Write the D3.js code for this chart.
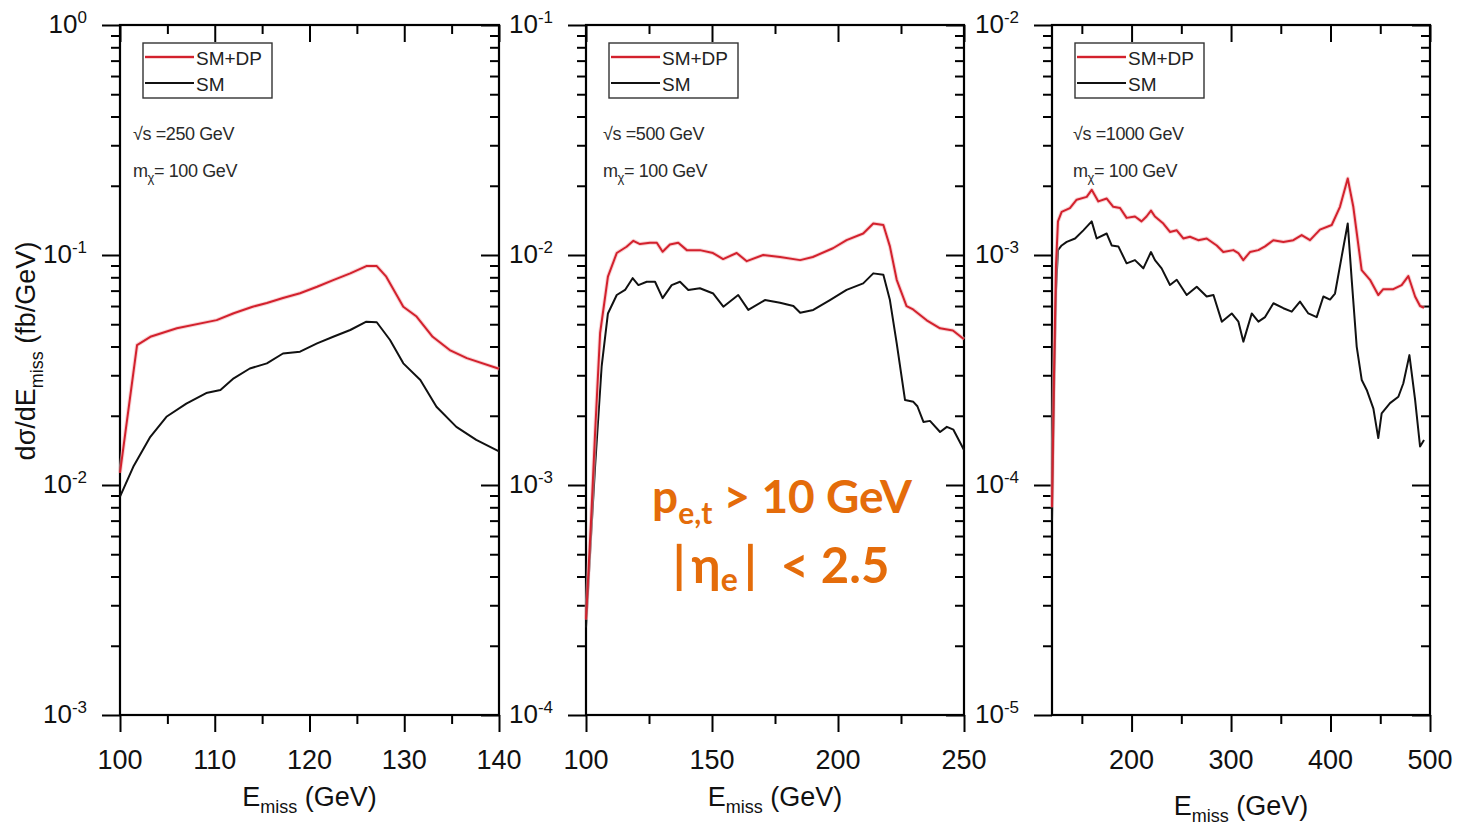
<!DOCTYPE html>
<html><head><meta charset="utf-8">
<script src="https://cdn.jsdelivr.net/npm/d3@7"></script>
<style>
html,body{margin:0;padding:0;background:#fff;}
svg{display:block;font-family:"Liberation Sans",Arial,sans-serif;}
</style></head>
<body>
<svg id="chart" width="1460" height="827"></svg>
<script>
// ---------- DATA ----------
// Panel 1: sqrt(s)=250 GeV
const p1SmDpE = [100,101.8,103.2,106,110.2,112,114,115.5,117.2,119,120.8,122.5,124.3,126,127.1,128.1,129.9,131.3,133,134.8,136.6,140];
const p1SmDpY = [0.0113,0.0406,0.0441,0.048,0.0521,0.0558,0.0596,0.0618,0.065,0.0682,0.0728,0.0778,0.0832,0.0895,0.0895,0.0805,0.0596,0.054,0.0441,0.0386,0.0356,0.032];
const p1SmE = [100,101.4,103.2,104.9,107,109.1,110.6,112,113.7,115.5,117.2,119,120.8,122.5,124.3,126,127.1,128.5,129.9,131.7,133.4,135.5,137.6,140];
const p1SmY = [0.0089,0.012,0.0162,0.0198,0.0226,0.0251,0.0259,0.0291,0.0321,0.0338,0.0373,0.038,0.0413,0.0441,0.0472,0.0513,0.051,0.0427,0.0338,0.0286,0.0219,0.0179,0.0157,0.014];

// Panel 2: sqrt(s)=500 GeV
const p2SmDpE = [100,102,103.6,105.6,108.7,112.2,116.1,118.8,121.4,125.4,128.1,130.4,133.3,136.6,140,145.2,150.4,154.4,159.8,163.8,170.3,177,185,190,198,203.4,210,214,218,220.6,223.3,227.2,229.8,235.2,240.5,245.6,250];
const p2SmDpY = [2.6e-4,7e-4,1.68e-3,4.58e-3,8.05e-3,0.0102,0.01086,0.01153,0.01116,0.0113,0.0113,0.01033,0.0111,0.0113,0.0105,0.0105,0.0102,0.0096,0.0102,0.0094,0.0100,0.0098,0.0095,0.0098,0.0107,0.0116,0.0124,0.0137,0.0135,0.0109,0.0078,0.0060,0.0058,0.0052,0.0048,0.0047,0.0043];
const p2SmE = [100,102,103.6,106.2,108.7,112.2,115.5,118.5,120.8,124.1,127.4,130.4,134,137.3,140.6,145.2,150.5,154.5,160.4,164.4,171,177,182.3,185,190.2,196.8,203.4,210,214,218,220.6,223.3,226.6,229.9,231.5,233.9,236.5,240.5,243.2,245.8,250];
const p2SmY = [2.4e-4,6e-4,1.2e-3,3.27e-3,5.57e-3,6.7e-3,7.05e-3,7.93e-3,7.4e-3,7.65e-3,7.65e-3,6.49e-3,7.4e-3,7.65e-3,7.05e-3,7.17e-3,6.8e-3,5.96e-3,6.7e-3,5.77e-3,6.37e-3,6.2e-3,6.0e-3,5.61e-3,5.77e-3,6.37e-3,7.05e-3,7.53e-3,8.32e-3,8.2e-3,6.37e-3,4.13e-3,2.34e-3,2.3e-3,2.2e-3,1.88e-3,1.9e-3,1.7e-3,1.79e-3,1.74e-3,1.42e-3];

// Panel 3: sqrt(s)=1000 GeV
const p3SmDpE = [120,122,124,126,129.7,138,144.8,154.9,159.9,166.6,175,181.6,188.4,195,203.4,210,215,219.5,223.5,231.9,238.6,245.4,252,258.7,267,275.5,285.6,292.2,302.3,307.3,312.3,319,327.4,334.2,342.5,352.6,362.6,371,379.4,389.4,401.2,409.5,417.3,422.9,431.3,439.7,448,453,463.1,471.5,478.2,485,490,494];
const p3SmDpY = [8e-5,3e-4,9e-4,1.4e-3,1.54e-3,1.6e-3,1.74e-3,1.79e-3,1.92e-3,1.71e-3,1.76e-3,1.62e-3,1.6e-3,1.45e-3,1.47e-3,1.40e-3,1.47e-3,1.56e-3,1.47e-3,1.37e-3,1.26e-3,1.28e-3,1.18e-3,1.2e-3,1.16e-3,1.18e-3,1.10e-3,1.03e-3,1.05e-3,1.02e-3,9.5e-4,1.03e-3,1.05e-3,1.09e-3,1.16e-3,1.14e-3,1.16e-3,1.22e-3,1.16e-3,1.29e-3,1.35e-3,1.62e-3,2.15e-3,1.62e-3,8.6e-4,7.8e-4,6.7e-4,7.1e-4,7.1e-4,7.4e-4,8.1e-4,6.6e-4,6.0e-4,5.9e-4];
const p3SmE = [120,122,124,126,129.7,134.8,143.2,151.5,159.9,164.9,175,180,186.7,195,203.4,211.8,219.5,223.5,230.2,238.6,245.4,255.4,265.5,275.5,282.3,290.7,300.7,307.4,312.4,320.8,327.5,334.2,342.6,352.6,361,369.3,377.7,386.1,392.8,399.5,404.5,411.2,417.3,421.3,426.3,431.4,436.4,443.1,448,451.4,459.8,468.2,473.2,479.3,485,490,494];
const p3SmY = [7e-5,2.5e-4,7e-4,1.05e-3,1.10e-3,1.14e-3,1.18e-3,1.28e-3,1.40e-3,1.18e-3,1.24e-3,1.10e-3,1.09e-3,9.2e-4,9.5e-4,8.75e-4,1.03e-3,9.5e-4,8.75e-4,7.41e-4,7.8e-4,6.7e-4,7.28e-4,6.6e-4,6.7e-4,5.13e-4,5.57e-4,5.13e-4,4.2e-4,5.57e-4,5.13e-4,5.37e-4,6.17e-4,5.87e-4,5.67e-4,6.27e-4,5.57e-4,5.37e-4,6.6e-4,6.4e-4,6.8e-4,9.84e-4,1.37e-3,7.8e-4,4.0e-4,2.86e-4,2.59e-4,2.15e-4,1.6e-4,2.05e-4,2.27e-4,2.42e-4,2.77e-4,3.67e-4,2.35e-4,1.47e-4,1.57e-4];

// axes / ticks
const xDomains = [[100,140],[100,250],[120,500]];
const xMajorTicks = [[100,110,120,130,140],[100,150,200,250],[200,300,400,500]];
const xMinorTicks = [[105,115,125,135],[125,175,225],[150,250,350,450]];
const yExpRanges = [[-3,0],[-4,-1],[-5,-2]];
const sqrtSLabels = ["\u221As =250 GeV","\u221As =500 GeV","\u221As =1000 GeV"];
const massLabel = ["m","\u03C7","= 100 GeV"];
const legendLabels = ["SM+DP","SM"];
const cutLines = [["p","e,t"," > 10 GeV"],["|\u2009\u03B7","e","\u2009|  < 2.5"]];

// ---------- LAYOUT ----------
const svg = d3.select("#chart");
const TOP = 25, BOTTOM = 715;
const panelX = [[120,499],[586,964],[1052,1430]];
const annotDx = [13,17,21];
const xTitleY = [806,806,815];
const RED = "#d3212d", BLACK = "#111";

const series = [
  {dp:[p1SmDpE,p1SmDpY], sm:[p1SmE,p1SmY]},
  {dp:[p2SmDpE,p2SmDpY], sm:[p2SmE,p2SmY]},
  {dp:[p3SmDpE,p3SmDpY], sm:[p3SmE,p3SmY]}
];

function minorLog(e0,e1){
  const out=[];
  for(let e=e0;e<e1;e++) for(let k=2;k<=9;k++) out.push(k*Math.pow(10,e));
  return out;
}
function majorLog(e0,e1){
  const out=[]; for(let e=e0;e<=e1;e++) out.push(Math.pow(10,e)); return out;
}

panelX.forEach((px,i)=>{
  const x = d3.scaleLinear().domain(xDomains[i]).range(px);
  const [e0,e1] = yExpRanges[i];
  const y = d3.scaleLog().domain([Math.pow(10,e0),Math.pow(10,e1)]).range([BOTTOM,TOP]);
  const g = svg.append("g");

  const styleAxis = sel => { sel.select(".domain").remove(); sel.selectAll("line").attr("stroke","#000").attr("stroke-width",2); sel.selectAll("text").remove(); };
  g.append("g").attr("transform",`translate(0,${BOTTOM})`)
    .call(d3.axisBottom(x).tickValues(xMajorTicks[i]).tickSize(17)).call(styleAxis);
  g.append("g").attr("transform",`translate(0,${BOTTOM})`)
    .call(d3.axisBottom(x).tickValues(xMinorTicks[i]).tickSize(9)).call(styleAxis);
  g.append("g").attr("transform",`translate(0,${TOP})`)
    .call(d3.axisBottom(x).tickValues(xMajorTicks[i]).tickSize(17)).call(styleAxis);
  g.append("g").attr("transform",`translate(0,${TOP})`)
    .call(d3.axisBottom(x).tickValues(xMinorTicks[i]).tickSize(9)).call(styleAxis);
  g.append("g").attr("transform",`translate(${px[0]},0)`)
    .call(d3.axisLeft(y).tickValues(majorLog(e0,e1)).tickSize(18)).call(styleAxis);
  g.append("g").attr("transform",`translate(${px[0]},0)`)
    .call(d3.axisLeft(y).tickValues(minorLog(e0,e1)).tickSize(9)).call(styleAxis);
  g.append("g").attr("transform",`translate(${px[1]},0)`)
    .call(d3.axisLeft(y).tickValues(majorLog(e0,e1)).tickSize(18)).call(styleAxis);
  g.append("g").attr("transform",`translate(${px[1]},0)`)
    .call(d3.axisLeft(y).tickValues(minorLog(e0,e1)).tickSize(9)).call(styleAxis);

  // frame
  g.append("rect").attr("x",px[0]).attr("y",TOP).attr("width",px[1]-px[0]).attr("height",BOTTOM-TOP)
    .attr("fill","none").attr("stroke","#000").attr("stroke-width",2.2);

  // y tick labels
  for(let e=e0;e<=e1;e++){
    const t = g.append("text").attr("x",px[0]-33).attr("y",y(Math.pow(10,e))+8)
      .attr("text-anchor","end").attr("font-size",26).attr("fill","#111");
    t.append("tspan").text("10");
    t.append("tspan").attr("dy",-10).attr("font-size",17).text(String(e));
  }
  // x tick labels
  g.selectAll(".xl").data(xMajorTicks[i]).enter().append("text")
    .attr("x",d=>x(d)).attr("y",769).attr("text-anchor","middle").attr("font-size",27).attr("fill","#111").text(d=>d);

  // x title
  const xt = g.append("text").attr("x",(px[0]+px[1])/2).attr("y",xTitleY[i]).attr("text-anchor","middle").attr("font-size",27).attr("fill","#111");
  xt.append("tspan").text("E");
  xt.append("tspan").attr("dy",7).attr("font-size",18).text("miss");
  xt.append("tspan").attr("dy",-7).text(" (GeV)");

  // curves
  const line = d3.line().x(d=>x(d[0])).y(d=>y(d[1]));
  const toPts = s => s[0].map((v,k)=>[v,s[1][k]]);
  g.append("path").attr("d",line(toPts(series[i].sm))).attr("fill","none").attr("stroke",BLACK).attr("stroke-width",2).attr("stroke-linejoin","round");
  g.append("path").attr("d",line(toPts(series[i].dp))).attr("fill","none").attr("stroke","#f3b5b9").attr("stroke-width",4).attr("stroke-linejoin","round").attr("opacity",0.6);
  g.append("path").attr("d",line(toPts(series[i].dp))).attr("fill","none").attr("stroke",RED).attr("stroke-width",2).attr("stroke-linejoin","round");

  // legend
  const lx = px[0]+23;
  g.append("rect").attr("x",lx).attr("y",43).attr("width",129).attr("height",55).attr("fill","#fff").attr("stroke","#333").attr("stroke-width",1.4);
  g.append("line").attr("x1",lx+2).attr("x2",lx+51).attr("y1",57).attr("y2",57).attr("stroke","#f3b5b9").attr("stroke-width",4).attr("opacity",0.6);
  g.append("line").attr("x1",lx+2).attr("x2",lx+51).attr("y1",57).attr("y2",57).attr("stroke",RED).attr("stroke-width",2);
  g.append("line").attr("x1",lx+2).attr("x2",lx+51).attr("y1",83).attr("y2",83).attr("stroke",BLACK).attr("stroke-width",2);
  g.append("text").attr("x",lx+53).attr("y",65).attr("font-size",19).attr("fill","#222").text(legendLabels[0]);
  g.append("text").attr("x",lx+53).attr("y",91).attr("font-size",19).attr("fill","#222").text(legendLabels[1]);

  // annotations
  const ax = px[0]+annotDx[i];
  g.append("text").attr("x",ax).attr("y",140).attr("font-size",18).attr("letter-spacing",-0.4).attr("fill","#2a2a2a").text(sqrtSLabels[i]);
  const mt = g.append("text").attr("x",ax).attr("y",177).attr("font-size",18).attr("letter-spacing",-0.4).attr("fill","#2a2a2a");
  mt.append("tspan").text(massLabel[0]);
  mt.append("tspan").attr("dy",5).attr("font-size",13).text(massLabel[1]);
  mt.append("tspan").attr("dy",-5).text(massLabel[2]);
});

// y title
const yt = svg.append("text").attr("transform","translate(35,351) rotate(-90)").attr("text-anchor","middle").attr("font-size",27).attr("fill","#111");
yt.append("tspan").text("d\u03C3/dE");
yt.append("tspan").attr("dy",8).attr("font-size",18).text("miss");
yt.append("tspan").attr("dy",-8).text(" (fb/GeV)");

// cut annotation
const ORANGE = "#e46c0a";
const c1 = svg.append("text").attr("x",782).attr("y",513).attr("text-anchor","middle").attr("font-family","Lato, 'Open Sans', sans-serif").attr("font-weight","bold").attr("font-size",46).attr("fill",ORANGE);
c1.append("tspan").text(cutLines[0][0]);
c1.append("tspan").attr("dy",11).attr("font-size",30).text(cutLines[0][1]);
c1.append("tspan").attr("dy",-11).text(cutLines[0][2]);
const c2 = svg.append("text").attr("x",781).attr("y",583).attr("text-anchor","middle").attr("font-family","Lato, 'Open Sans', sans-serif").attr("font-weight","bold").attr("font-size",49).attr("fill",ORANGE).attr("xml:space","preserve");
c2.append("tspan").text(cutLines[1][0]);
c2.append("tspan").attr("dy",8).attr("font-size",32).text(cutLines[1][1]);
c2.append("tspan").attr("dy",-8).text(cutLines[1][2]);
</script>
</body></html>
